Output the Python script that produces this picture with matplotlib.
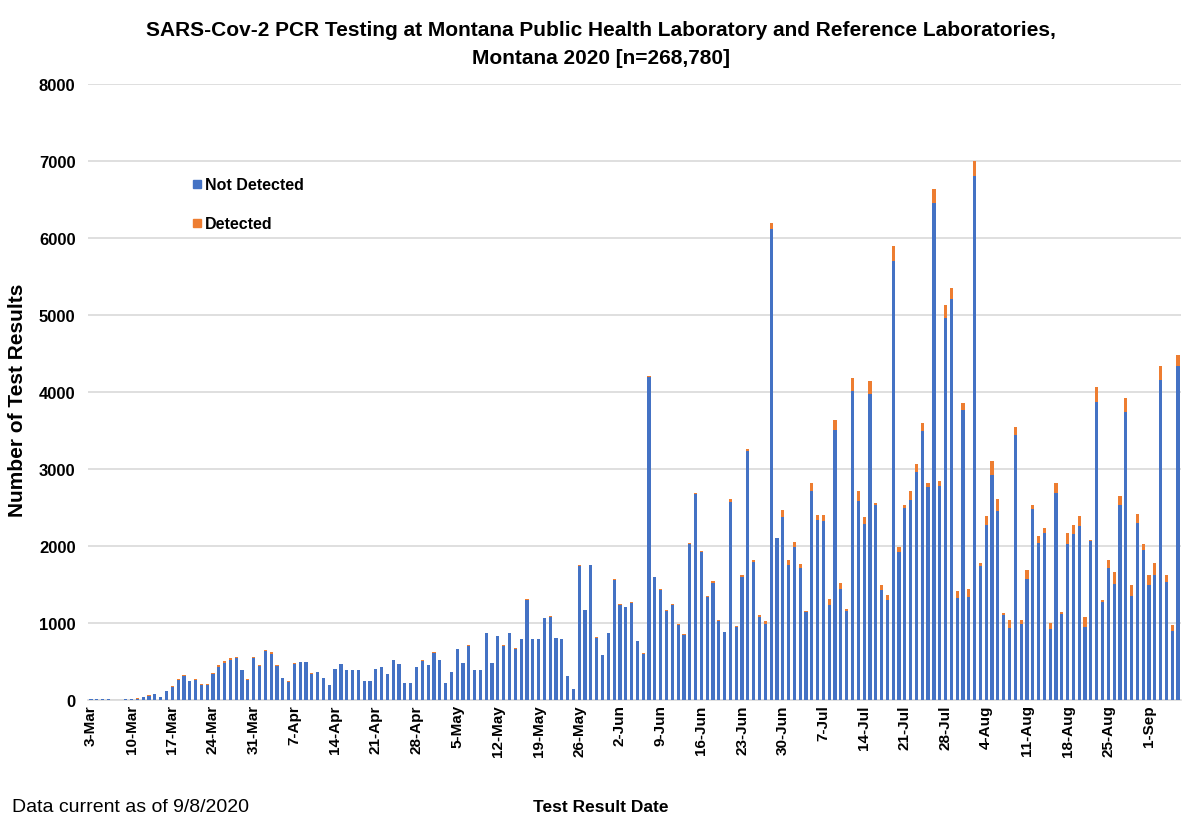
import datetime as dt
import numpy as np
import matplotlib
matplotlib.use("Agg")
import matplotlib.pyplot as plt
from matplotlib.lines import Line2D

plt.rcParams['font.family'] = ['Liberation Sans', 'DejaVu Sans']

# ---- data ----
start_date = dt.date(2020, 3, 3)

total_results = [
    15, 15, 15, 10, 0, 0, 15, 15, 20, 40,
    60, 80, 40, 120, 180, 270, 330, 250, 270, 205,
    205, 350, 450, 505, 540, 555, 395, 270, 560, 450,
    645, 617, 452, 287, 243, 478, 496, 496, 348, 365,
    287, 200, 409, 470, 391, 391, 391, 243, 243, 409,
    426, 343, 517, 470, 226, 226, 435, 513, 452, 617,
    517, 226, 370, 665, 480, 710, 395, 395, 875, 480,
    830, 710, 875, 670, 795, 1310, 791, 791, 1065, 1085,
    810, 795, 313, 148, 1752, 1170, 1755, 813, 585, 872,
    1565, 1245, 1213, 1268, 770, 607, 4213, 1603, 1438, 1164,
    1248, 982, 852, 2045, 2692, 1937, 1348, 1540, 1034, 888,
    2607, 960, 1622, 3255, 1817, 1107, 1025, 6200, 2110, 2469,
    1820, 2050, 1760, 1152, 2823, 2409, 2405, 1317, 3635, 1521,
    1187, 4178, 2715, 2383, 4138, 2563, 1492, 1360, 5890, 1993,
    2530, 2715, 3071, 3594, 2818, 6642, 2840, 5133, 5345, 1420,
    3860, 1437, 7000, 1777, 2395, 3107, 2605, 1126, 1033, 3544,
    1033, 1688, 2526, 2126, 2233, 1000, 2814, 1140, 2172, 2270,
    2395, 1084, 2084, 4070, 1293, 1814, 1665, 2651, 3921, 1498,
    2419, 2023, 1628, 1777, 4340, 1628, 977, 4484,
]

detected = [
    0, 0, 0, 0, 0, 0, 1, 1, 2, 3,
    5, 6, 3, 5, 8, 10, 12, 8, 6, 6,
    5, 12, 18, 20, 15, 10, 8, 5, 20, 12,
    8, 15, 8, 5, 4, 4, 6, 5, 4, 4,
    3, 2, 3, 4, 3, 3, 3, 2, 2, 3,
    3, 2, 3, 4, 2, 2, 3, 3, 3, 4,
    3, 1, 2, 3, 2, 3, 2, 2, 4, 3,
    3, 3, 4, 3, 3, 5, 4, 4, 5, 4,
    4, 4, 2, 1, 6, 5, 6, 4, 3, 5,
    8, 6, 7, 8, 5, 4, 12, 10, 10, 8,
    10, 8, 6, 15, 20, 15, 10, 15, 10, 10,
    40, 15, 25, 20, 20, 25, 40, 85, 12, 95,
    65, 65, 50, 15, 105, 75, 75, 85, 125, 85,
    30, 170, 125, 100, 160, 25, 60, 60, 185, 70,
    40, 120, 115, 100, 50, 190, 60, 175, 135, 93,
    93, 98, 200, 40, 125, 186, 150, 25, 93, 100,
    45, 120, 45, 93, 70, 84, 125, 20, 140, 120,
    140, 130, 20, 200, 15, 100, 153, 125, 186, 150,
    116, 80, 140, 150, 190, 93, 80, 140,
]

tick_labels = ['3-Mar', '10-Mar', '17-Mar', '24-Mar', '31-Mar', '7-Apr', '14-Apr',
               '21-Apr', '28-Apr', '5-May', '12-May', '19-May', '26-May', '2-Jun',
               '9-Jun', '16-Jun', '23-Jun', '30-Jun', '7-Jul', '14-Jul', '21-Jul',
               '28-Jul', '4-Aug', '11-Aug', '18-Aug', '25-Aug', '1-Sep']

y_ticks = [0, 1000, 2000, 3000, 4000, 5000, 6000, 7000, 8000]

# ---- derived ----
total_arr = np.array(total_results, dtype=float)
det_arr = np.array(detected, dtype=float)
not_det = total_arr - det_arr
n = len(total_arr)
x = np.arange(n)

BLUE = '#4472C4'
ORANGE = '#ED7D31'
GRID = '#D9D9D9'

fig = plt.figure(figsize=(11.82, 8.20), dpi=100)
ax = fig.add_axes([88 / 1182, 1 - 701 / 820, 1093 / 1182, 616 / 820])

ax.bar(x, not_det, width=0.55, color=BLUE, linewidth=0, zorder=3)
ax.bar(x, det_arr, bottom=not_det, width=0.55, color=ORANGE, linewidth=0, zorder=3)

ax.set_xlim(-0.5, n - 0.5)
ax.set_ylim(0, 8000)
ax.set_yticks(y_ticks)
ax.set_yticklabels([str(v) for v in y_ticks], fontsize=12, fontweight='bold')
ax.grid(axis='y', color=GRID, linewidth=1.2, zorder=0)
ax.set_axisbelow(True)

ax.set_xticks(np.arange(0, 7 * len(tick_labels), 7))
ax.set_xticklabels(tick_labels, rotation=90, fontsize=11, fontweight='bold')
ax.tick_params(axis='both', length=0)
ax.tick_params(axis='y', pad=9)
ax.tick_params(axis='x', pad=3)

for s in ['top', 'right', 'left']:
    ax.spines[s].set_visible(False)
ax.spines['bottom'].set_color(GRID)
ax.spines['bottom'].set_linewidth(1.2)

fig.text(18 / 1182, 1 - 400 / 820, 'Number of Test Results', rotation=90,
         ha='center', va='center', fontsize=15, fontweight='bold')
fig.text(601 / 1182, 1 - 808 / 820, 'Test Result Date', ha='center', va='center',
         fontsize=12.5, fontweight='bold')
fig.text(12 / 1182, 1 - 808 / 820, 'Data current as of 9/8/2020', ha='left',
         va='center', fontsize=14)

fig.text(601 / 1182, 1 - 31 / 820,
         'SARS-Cov-2 PCR Testing at Montana Public Health Laboratory and Reference Laboratories,',
         ha='center', va='center', fontsize=15, fontweight='bold')
fig.text(601 / 1182, 1 - 58 / 820, 'Montana 2020 [n=268,780]',
         ha='center', va='center', fontsize=15, fontweight='bold')

handles = [Line2D([0], [0], marker='s', linestyle='none', markersize=6,
                  markerfacecolor=BLUE, markeredgecolor=BLUE),
           Line2D([0], [0], marker='s', linestyle='none', markersize=6,
                  markerfacecolor=ORANGE, markeredgecolor=ORANGE)]
leg = ax.legend(handles, ['Not Detected', 'Detected'], loc='upper left',
                bbox_to_anchor=(0.082, 0.872), frameon=False, handlelength=0.6,
                handletextpad=0.2, labelspacing=1.5,
                prop={'size': 11.5, 'weight': 'bold'})

fig.savefig('out.png', dpi=100, facecolor='white')
